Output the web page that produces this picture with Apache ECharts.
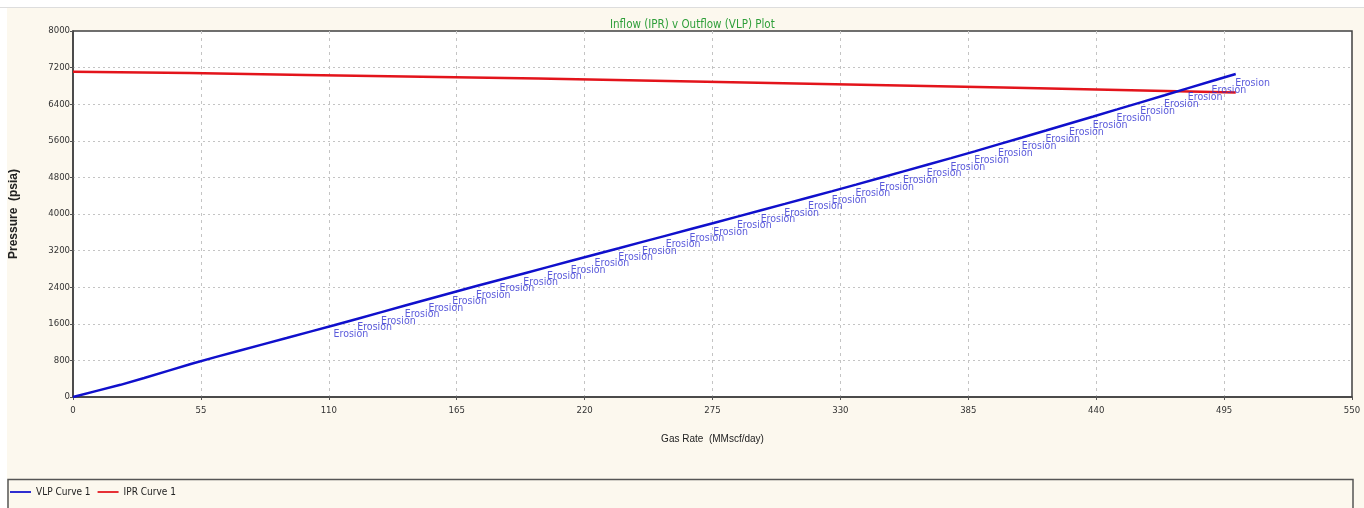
<!DOCTYPE html>
<html>
<head>
<meta charset="utf-8">
<title>Inflow (IPR) v Outflow (VLP) Plot</title>
<script src="https://cdn.jsdelivr.net/npm/echarts@6/dist/echarts.min.js"></script>
<style>
  html, body { margin: 0; padding: 0; background: #ffffff; }
  #chart { width: 1364px; height: 508px; }
</style>
</head>
<body>
<div id="chart"></div>
<script>
// Tick labels
const xTicks = [0, 55, 110, 165, 220, 275, 330, 385, 440, 495, 550];
const yTicks = [0, 800, 1600, 2400, 3200, 4000, 4800, 5600, 6400, 7200, 8000];

// VLP curve: gas rate (MMscf/day) and flowing bottom-hole pressure (psia)
const vlpRate = [0, 10.2, 20.41, 30.61, 40.82, 51.02, 61.22, 71.43, 81.63, 91.84,
  102.04, 112.24, 122.45, 132.65, 142.86, 153.06, 163.27, 173.47, 183.67, 193.88,
  204.08, 214.29, 224.49, 234.69, 244.9, 255.1, 265.31, 275.51, 285.71, 295.92,
  306.12, 316.33, 326.53, 336.73, 346.94, 357.14, 367.35, 377.55, 387.76, 397.96,
  408.16, 418.37, 428.57, 438.78, 448.98, 459.18, 469.39, 479.59, 489.8, 500];
const vlpPressure = [0, 134, 266, 416, 571, 726, 872, 1011, 1150, 1289,
  1429, 1568, 1712, 1855, 1999, 2142, 2285, 2425, 2563, 2701,
  2839, 2977, 3115, 3252, 3390, 3528, 3666, 3804, 3943, 4082,
  4221, 4361, 4500, 4642, 4787, 4932, 5077, 5221, 5368, 5521,
  5673, 5826, 5979, 6132, 6286, 6441, 6596, 6751, 6906, 7061];
// 1 where the rate exceeds the erosional velocity limit
const vlpErosion = [0, 0, 0, 0, 0, 0, 0, 0, 0, 0,
  0, 1, 1, 1, 1, 1, 1, 1, 1, 1,
  1, 1, 1, 1, 1, 1, 1, 1, 1, 1,
  1, 1, 1, 1, 1, 1, 1, 1, 1, 1,
  1, 1, 1, 1, 1, 1, 1, 1, 1, 1];

// IPR curve
const iprRate = [0, 50, 100, 150, 200, 250, 300, 350, 400, 450, 500];
const iprPressure = [7110, 7080, 7040, 7000, 6960, 6915, 6865, 6815, 6765, 6710, 6655];

const narrow = '"Liberation Sans Narrow", "Arial Narrow", "DejaVu Sans", sans-serif';
const plain = '"Liberation Sans", Arial, sans-serif';

const vlpData = vlpRate.map((q, i) => [q, vlpPressure[i]]);
const iprData = iprRate.map((q, i) => [q, iprPressure[i]]);
const erosionData = vlpData.filter((p, i) => vlpErosion[i] === 1);

const lineIcon = 'path://M0,4 L24,4 L24,6 L0,6 Z';

const chart = echarts.init(document.getElementById('chart'), null, { renderer: 'canvas' });

chart.setOption({
  animation: false,
  backgroundColor: '#fcf8ee',
  graphic: [
    // white page margin with thin rule at the top and left
    { type: 'rect', shape: { x: 0, y: 0, width: 1364, height: 7 }, style: { fill: '#ffffff' }, z: -10, silent: true },
    { type: 'rect', shape: { x: 0, y: 0, width: 7, height: 508 }, style: { fill: '#ffffff' }, z: -10, silent: true },
    { type: 'line', shape: { x1: 0, y1: 7.5, x2: 1364, y2: 7.5 }, style: { stroke: '#dddddd', lineWidth: 1 }, z: -9, silent: true },
    // legend panel
    { type: 'rect', shape: { x: 8, y: 479.5, width: 1345, height: 40 },
      style: { fill: 'transparent', stroke: '#555555', lineWidth: 1.5 }, z: -5, silent: true }
  ],
  title: {
    text: 'Inflow (IPR) v Outflow (VLP) Plot',
    left: 605,
    top: 14,
    textStyle: { color: '#2f9f3a', fontFamily: narrow, fontSize: 11.5, fontWeight: 'condensed' }
  },
  legend: {
    left: 10,
    top: 487,
    padding: 0,
    itemWidth: 21,
    itemHeight: 10,
    itemGap: 7,
    icon: lineIcon,
    textStyle: { color: '#222222', fontFamily: narrow, fontSize: 10, fontWeight: 'condensed' },
    data: ['VLP Curve 1', 'IPR Curve 1']
  },
  grid: {
    left: 73,
    right: 12,
    top: 31,
    bottom: 111,
    outerBoundsMode: 'none',
    containLabel: false,
    show: true,
    backgroundColor: '#ffffff',
    borderColor: '#404040',
    borderWidth: 1.5
  },
  xAxis: {
    type: 'value',
    min: xTicks[0],
    max: xTicks[xTicks.length - 1],
    interval: xTicks[1] - xTicks[0],
    name: 'Gas Rate  (MMscf/day)',
    nameLocation: 'middle',
    nameGap: 37,
    nameTextStyle: { color: '#222222', fontFamily: plain, fontSize: 10, fontWeight: 'condensed' },
    axisLine: { show: true, lineStyle: { color: '#404040', width: 1.5 } },
    axisTick: { show: true, length: 3, lineStyle: { color: '#555555' } },
    axisLabel: { color: '#333333', fontFamily: narrow, fontSize: 9.5, fontWeight: 'condensed', margin: 9, formatter: v => String(v) },
    splitLine: { show: true, showMinLine: false, showMaxLine: false, lineStyle: { color: '#c4c4c4', type: [3, 4], width: 1 } }
  },
  yAxis: {
    type: 'value',
    min: yTicks[0],
    max: yTicks[yTicks.length - 1],
    interval: yTicks[1] - yTicks[0],
    name: 'Pressure  (psia)',
    nameLocation: 'middle',
    nameGap: 53,
    nameTextStyle: { color: '#222222', fontFamily: plain, fontSize: 12, fontWeight: 'bold' },
    axisLine: { show: true, lineStyle: { color: '#404040', width: 1.5 } },
    axisTick: { show: true, length: 3, lineStyle: { color: '#555555' } },
    axisLabel: { color: '#333333', fontFamily: narrow, fontSize: 9.5, fontWeight: 'condensed', margin: 3, formatter: v => String(v) },
    splitLine: { show: true, showMinLine: false, showMaxLine: false, lineStyle: { color: '#c4c4c4', type: [2, 3], width: 1 } }
  },
  series: [
    {
      name: 'VLP Curve 1',
      type: 'line',
      data: vlpData,
      symbol: 'none',
      color: '#1010cc',
      lineStyle: { color: '#1010cc', width: 2.5 },
      z: 3
    },
    {
      name: 'IPR Curve 1',
      type: 'line',
      data: iprData,
      symbol: 'none',
      color: '#e3141b',
      lineStyle: { color: '#e3141b', width: 2.5 },
      z: 2
    },
    {
      name: 'Erosion',
      type: 'scatter',
      data: erosionData,
      symbolSize: 1,
      itemStyle: { color: 'rgba(0,0,0,0)' },
      label: {
        show: true,
        formatter: 'Erosion',
        position: [0, 4],
        align: 'left',
        verticalAlign: 'top',
        color: '#3030d2',
        fontFamily: narrow,
        fontSize: 10.5,
        fontWeight: 'condensed'
      },
      z: 4,
      silent: true
    }
  ]
});
</script>
</body>
</html>
